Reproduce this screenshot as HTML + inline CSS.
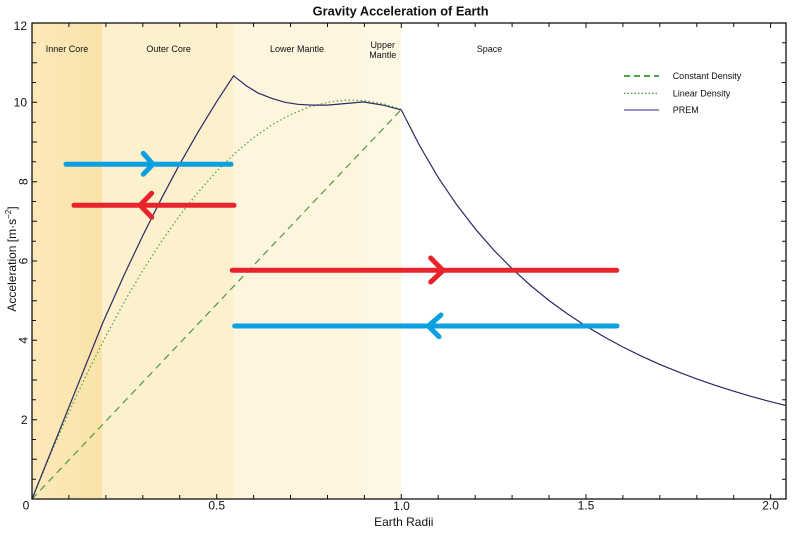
<!DOCTYPE html>
<html>
<head>
<meta charset="utf-8">
<style>
  html,body{margin:0;padding:0;background:#fff;}
  svg{display:block;}
  text{font-family:"Liberation Sans",sans-serif;fill:#111;}
</style>
</head>
<body>
<svg width="800" height="546" viewBox="0 0 800 546" xmlns="http://www.w3.org/2000/svg">
  <defs>
    <linearGradient id="ic" x1="0" y1="0" x2="1" y2="0">
      <stop offset="0" stop-color="#fce9ba"/>
      <stop offset="1" stop-color="#fae2aa"/>
    </linearGradient>
  </defs>
  <!-- bands -->
  <rect x="32" y="23" width="70" height="476" fill="url(#ic)"/>
  <rect x="102" y="23" width="131.5" height="476" fill="#fdf0cd"/>
  <rect x="233.5" y="23" width="128.5" height="476" fill="#fef5de"/>
  <rect x="362" y="23" width="39.5" height="476" fill="#fef7e4"/>

  <!-- region labels -->
  <g font-size="9" text-anchor="middle">
    <text x="67" y="52">Inner Core</text>
    <text x="168.7" y="52">Outer Core</text>
    <text x="297" y="52">Lower Mantle</text>
    <text x="382.7" y="48">Upper</text>
    <text x="382.7" y="58">Mantle</text>
    <text x="489.5" y="52">Space</text>
  </g>

  <!-- legend -->
  <line x1="624" y1="76" x2="659" y2="76" stroke="#2e9a2e" stroke-width="1.8" stroke-dasharray="6 4"/>
  <line x1="624" y1="93.3" x2="659" y2="93.3" stroke="#4aa040" stroke-width="1.4" stroke-dasharray="1.5 2"/>
  <line x1="624" y1="110" x2="659" y2="110" stroke="#5555aa" stroke-width="1.2"/>
  <g font-size="9">
    <text x="672.7" y="79.2">Constant Density</text>
    <text x="672.7" y="96.5">Linear Density</text>
    <text x="672.7" y="113.2">PREM</text>
  </g>

  <!-- constant density -->
  <line x1="32" y1="499" x2="401.3" y2="109.5" stroke="#4f9a42" stroke-width="1.2" stroke-dasharray="7 5"/>

  <!-- linear density -->
  <polyline fill="none" stroke="#55a83a" stroke-width="1.3" stroke-dasharray="1.5 2.5"
    points="32,499 50.5,454.3 68.9,412.2 87.4,372.7 105.9,336 124.3,301.9 142.8,270.4 161.3,241.6 179.7,215.5 198.2,192.1 216.7,171.3 235.1,153.1 253.6,137.6 272,124.8 290.5,114.6 309,107.1 327.4,102.3 345.9,100.1 364.4,100.6 382.8,103.7 401.3,109.5"/>

  <!-- PREM -->
  <polyline fill="none" stroke="#2a2a66" stroke-width="1.2" stroke-linejoin="round"
    points="32,499 102.9,322.5 124.3,274.6 142.8,235.6 161.3,198.8 179.7,164.2 198.2,131.8 216.7,101.6 233.6,75.8 246.2,85.7 258.4,93.2 272,98.4 285,102.3 297.9,104.3 311.6,105.1 327.4,105.1 345.9,103.5 363.3,101.9 382.8,105.1 401.3,109.9 419.8,146 438.2,177.4 456.7,204.8 475.2,228.8 493.6,249.9 512.1,268.7 530.6,285.5 549,300.5 567.5,313.9 586,326.1 604.4,337 622.9,347 641.3,356.1 659.8,364.4 678.3,371.9 696.7,378.9 715.2,385.3 733.7,391.2 752.1,396.7 770.6,401.7 786,405.6"/>

  <!-- arrows -->
  <g fill="none" stroke-width="5" stroke-linecap="round" stroke-linejoin="round">
    <g stroke="#0aa0e2">
      <line x1="66" y1="164.3" x2="231" y2="164.3"/>
      <polyline points="143.3,153.3 153,164.3 143.3,174.3"/>
      <line x1="234.7" y1="326" x2="617" y2="326"/>
      <polyline points="441,315 428.3,326 439,336.7"/>
    </g>
    <g stroke="#e8232b">
      <line x1="74" y1="205.3" x2="234" y2="205.3"/>
      <polyline points="151.7,193.3 140,205.3 151.7,217.3"/>
      <line x1="232.3" y1="270.3" x2="616.7" y2="270.3"/>
      <polyline points="430.7,258 443,270.5 430.7,282"/>
    </g>
  </g>

  <!-- frame -->
  <rect x="32" y="23" width="754" height="476" fill="none" stroke="#111" stroke-width="1.3"/>

  <!-- ticks -->
  <g stroke="#111" stroke-width="1">
    <!-- bottom & top ticks every 0.1 -->
    <path d="M68.9,499v-4M105.9,499v-4M142.8,499v-4M179.7,499v-4M216.7,499v-5M253.6,499v-4M290.5,499v-4M327.5,499v-4M364.4,499v-4M401.3,499v-5M438.2,499v-4M475.2,499v-4M512.1,499v-4M549,499v-4M586,499v-5M622.9,499v-4M659.8,499v-4M696.8,499v-4M733.7,499v-4M770.6,499v-5
             M68.9,23v4M105.9,23v4M142.8,23v4M179.7,23v4M216.7,23v5M253.6,23v4M290.5,23v4M327.5,23v4M364.4,23v4M401.3,23v5M438.2,23v4M475.2,23v4M512.1,23v4M549,23v4M586,23v5M622.9,23v4M659.8,23v4M696.8,23v4M733.7,23v4M770.6,23v5"/>
    <!-- left & right ticks every 0.5 -->
    <path d="M32,479.2h4M32,459.3h5M32,439.5h4M32,419.7h5M32,399.8h4M32,380h5M32,360.2h4M32,340.3h5M32,320.5h4M32,300.7h5M32,280.8h4M32,261h5M32,241.2h4M32,221.3h5M32,201.5h4M32,181.7h5M32,161.8h4M32,142h5M32,122.2h4M32,102.3h5M32,82.5h4M32,62.7h5M32,42.8h4
             M786,479.2h-4M786,459.3h-5M786,439.5h-4M786,419.7h-5M786,399.8h-4M786,380h-5M786,360.2h-4M786,340.3h-5M786,320.5h-4M786,300.7h-5M786,280.8h-4M786,261h-5M786,241.2h-4M786,221.3h-5M786,201.5h-4M786,181.7h-5M786,161.8h-4M786,142h-5M786,122.2h-4M786,102.3h-5M786,82.5h-4M786,62.7h-5M786,42.8h-4"/>
  </g>

  <!-- x tick labels -->
  <g font-size="12" text-anchor="middle">
    <text x="26" y="509.5">0</text>
    <text x="216.7" y="509.5">0.5</text>
    <text x="401.5" y="510">1.0</text>
    <text x="586" y="509.5">1.5</text>
    <text x="770.6" y="509.5">2.0</text>
  </g>
  <!-- y tick labels -->
  <g font-size="12" text-anchor="end">
    <text x="27" y="30">12</text>
    <text x="27" y="106.5">10</text>
    <text x="27.5" y="424">2</text>
  </g>
  <g font-size="12" text-anchor="middle" dominant-baseline="central">
    <text transform="translate(23.3,181.7) rotate(-90)">8</text>
    <text transform="translate(23.3,261) rotate(-90)">6</text>
    <text transform="translate(23.3,340.3) rotate(-90)">4</text>
  </g>

  <!-- axis labels -->
  <text x="403.8" y="526" font-size="12" text-anchor="middle">Earth Radii</text>
  <text transform="translate(16,259) rotate(-90)" font-size="12" text-anchor="middle">Acceleration [m·s<tspan font-size="8" dy="-5">−2</tspan><tspan dy="5">]</tspan></text>

  <!-- title -->
  <text x="400.6" y="15.5" font-size="12.8" font-weight="bold" text-anchor="middle">Gravity Acceleration of Earth</text>
</svg>
</body>
</html>
